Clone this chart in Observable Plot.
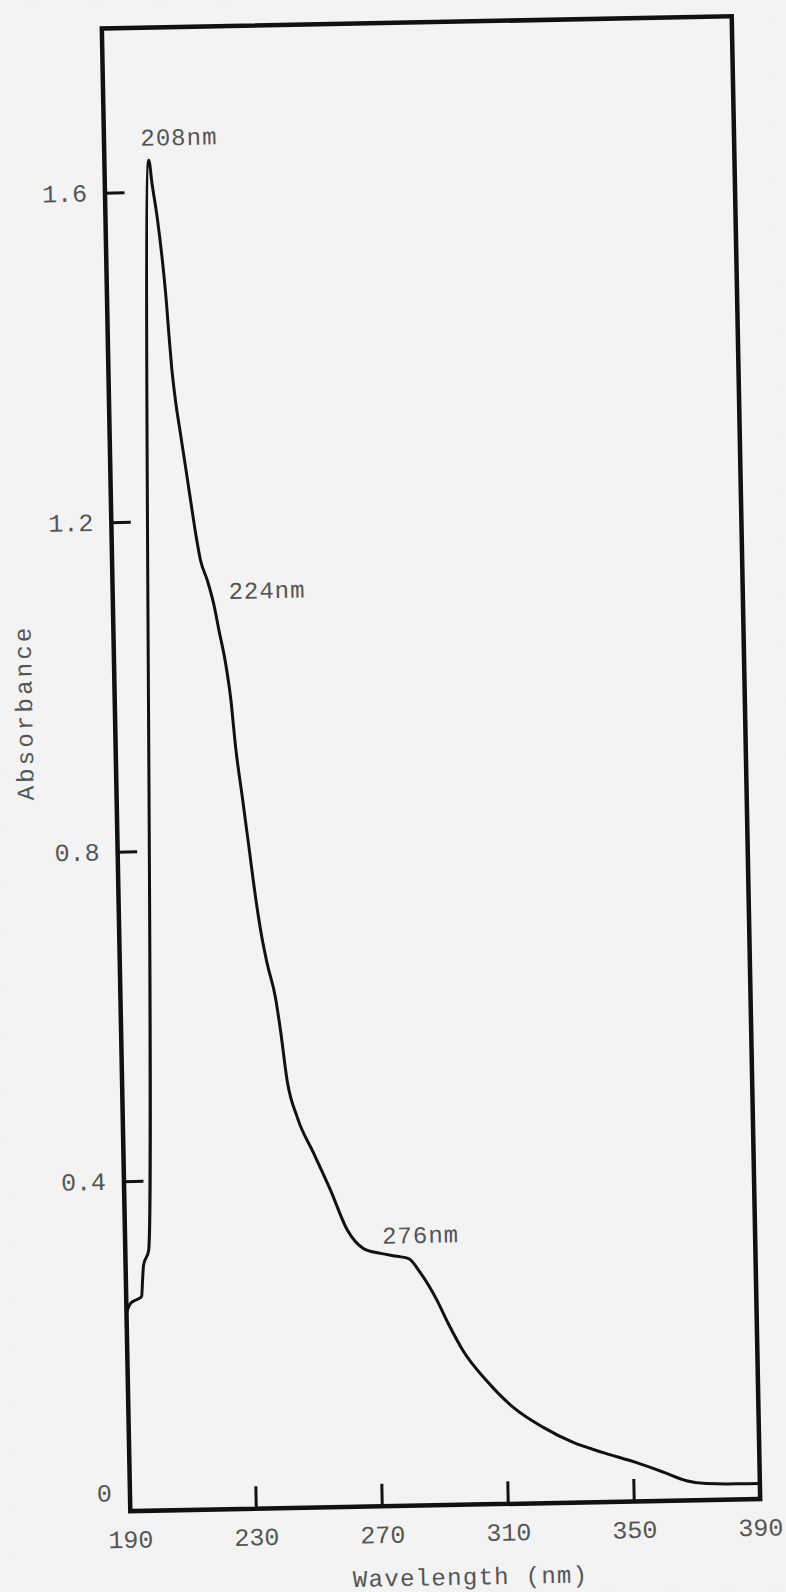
<!DOCTYPE html>
<html><head><meta charset="utf-8">
<script src="https://cdn.jsdelivr.net/npm/d3@7"></script>
<script src="https://cdn.jsdelivr.net/npm/@observablehq/plot@0.6"></script>
<style>
html,body{margin:0;padding:0;background:#f3f3f3;overflow:hidden}
#chart svg{transform:rotate(-1.1deg);transform-origin:430.5px 763.25px;}
</style></head><body><div id="chart"></div>
<script>
const wavelength = [190.0, 191.3, 193.6, 194.9, 195.3, 195.7, 197.4, 204.1, 205.0, 206.4, 207.8, 208.8, 209.4, 210.1, 211.1, 212.5, 213.9, 215.3, 216.7, 218.1, 220.1, 222.0, 223.5, 225.4, 226.8, 228.1, 229.9, 231.7, 233.5, 234.9, 236.8, 239.2, 240.6, 242.4, 245.4, 250.4, 255.5, 260.6, 265.7, 271.0, 276.3, 279.9, 283.6, 288.6, 292.1, 296.6, 303.9, 312.2, 321.6, 331.0, 340.5, 351.0, 359.4, 366.7, 373.1, 382.6, 390.0];
const absorbance = [0.241, 0.252, 0.257, 0.260, 0.280, 0.298, 0.316, 1.639, 1.610, 1.570, 1.517, 1.468, 1.428, 1.387, 1.347, 1.306, 1.266, 1.225, 1.185, 1.152, 1.128, 1.099, 1.067, 1.027, 0.985, 0.924, 0.864, 0.803, 0.742, 0.702, 0.661, 0.620, 0.580, 0.519, 0.474, 0.430, 0.385, 0.336, 0.313, 0.307, 0.303, 0.300, 0.282, 0.249, 0.220, 0.187, 0.150, 0.117, 0.092, 0.073, 0.060, 0.047, 0.035, 0.024, 0.020, 0.019, 0.019];
const xTicks = [190, 230, 270, 310, 350, 390];
const yTicks = [0, 0.4, 0.8, 1.2, 1.6];
const peakLabels = ["208nm", "224nm", "276nm"];
const peakLabelX = [213.8, 239.0, 283.8];
const peakLabelY = [1.666, 1.114, 0.328];
const xLabel = "Wavelength (nm)";
const yLabel = "Absorbance";

const spectrum = wavelength.map((w, i) => ({w, a: absorbance[i]}));
const notes = peakLabels.map((t, i) => ({t, x: peakLabelX[i], y: peakLabelY[i]}));
const font = "'Liberation Mono', 'Courier New', monospace";
const ink = "#111";
const grey = "#555";
const fmt = d => d === 0 ? "0" : d.toFixed(1);

const chart = Plot.plot({
  width: 786, height: 1592,
  marginLeft: 115.5, marginRight: 40.5, marginTop: 21.75, marginBottom: 87.25,
  style: {background: "#f3f3f3", color: grey, fontFamily: font, fontSize: "25px"},
  x: {domain: [190, 390]},
  y: {domain: [0, 1.8]},
  marks: [
    Plot.axisX({ticks: xTicks, tickSize: 0, tickPadding: 19, label: null, fontSize: 25, fill: grey}),
    Plot.axisX({ticks: xTicks.slice(1, -1), tickSize: -22, tickFormat: () => "", stroke: ink, strokeWidth: 3, label: null}),
    Plot.axisY({ticks: yTicks.slice(1), tickSize: 0, tickPadding: 18, tickFormat: fmt, label: null, fontSize: 25, fill: grey}),
    Plot.axisY({ticks: yTicks.slice(0, 1), tickSize: 0, tickPadding: 18, tickFormat: fmt, label: null, fontSize: 25, fill: grey, dy: -18}),
    Plot.axisY({ticks: yTicks.slice(1), tickSize: -20, tickFormat: () => "", stroke: ink, strokeWidth: 3, label: null}),
    Plot.frame({stroke: ink, strokeWidth: 4.5}),
    Plot.line(spectrum, {x: "w", y: "a", stroke: ink, strokeWidth: 3, curve: "monotone-x"}),
    Plot.text(notes, {x: "x", y: "y", text: "t", fontSize: 24, fill: grey}),
    Plot.text([yLabel], {text: d => d, frameAnchor: "left", rotate: -90, dx: -90.5, dy: 29, fontSize: 24, fill: grey}),
    Plot.text([xLabel], {text: d => d, frameAnchor: "bottom", dx: 24, dy: 80, fontSize: 24, fill: grey})
  ]
});
d3.select(chart).selectAll("text").each(function() {
  const s = this.textContent;
  if (s === yLabel) this.setAttribute("letter-spacing", "3.2");
  else if (s === xLabel) this.setAttribute("letter-spacing", "1.3");
  else if (s.endsWith("nm")) this.setAttribute("letter-spacing", "1");
});
document.getElementById("chart").appendChild(chart);
</script></body></html>
